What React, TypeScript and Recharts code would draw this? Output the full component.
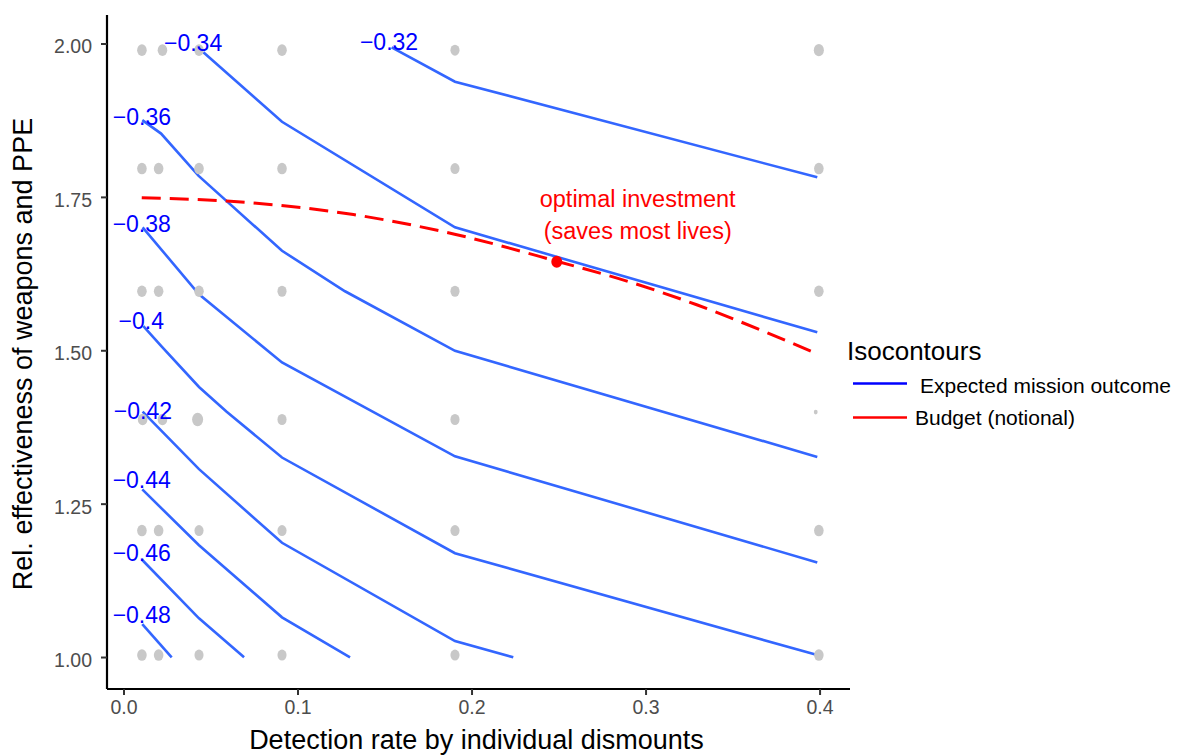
import { ComposedChart, XAxis, YAxis, Line, Scatter } from 'recharts';

// ─── Data ────────────────────────────────────────────────────────────────────

const FONT = '"Liberation Sans", Arial, Helvetica, sans-serif';

const xTicks = [0, 0.1, 0.2, 0.3, 0.4];
const yTicks = [1, 1.25, 1.5, 1.75, 2];

// simulation sample points (grey), s = relative size
const samplePoints = [
  { x: 0.0103, y: 1.99, s: 1 },
  { x: 0.0221, y: 1.99, s: 1 },
  { x: 0.0431, y: 1.99, s: 1 },
  { x: 0.0908, y: 1.99, s: 1 },
  { x: 0.1902, y: 1.99, s: 0.95 },
  { x: 0.3993, y: 1.99, s: 1.05 },
  { x: 0.0103, y: 1.797, s: 1 },
  { x: 0.0199, y: 1.797, s: 1 },
  { x: 0.0431, y: 1.797, s: 1 },
  { x: 0.0908, y: 1.797, s: 1 },
  { x: 0.1902, y: 1.797, s: 0.95 },
  { x: 0.3993, y: 1.797, s: 1 },
  { x: 0.0103, y: 1.597, s: 1 },
  { x: 0.0199, y: 1.597, s: 1 },
  { x: 0.0431, y: 1.597, s: 1 },
  { x: 0.0908, y: 1.597, s: 0.95 },
  { x: 0.1902, y: 1.597, s: 0.95 },
  { x: 0.3993, y: 1.597, s: 1 },
  { x: 0.0107, y: 1.388, s: 1 },
  { x: 0.0221, y: 1.388, s: 1 },
  { x: 0.0423, y: 1.388, s: 1.15 },
  { x: 0.0908, y: 1.388, s: 0.95 },
  { x: 0.1902, y: 1.388, s: 0.95 },
  { x: 0.3975, y: 1.4, s: 0.4 },
  { x: 0.0103, y: 1.207, s: 1 },
  { x: 0.0199, y: 1.207, s: 1 },
  { x: 0.0431, y: 1.207, s: 0.95 },
  { x: 0.0908, y: 1.207, s: 0.95 },
  { x: 0.1902, y: 1.207, s: 0.95 },
  { x: 0.3993, y: 1.207, s: 1 },
  { x: 0.0103, y: 1.004, s: 1 },
  { x: 0.0199, y: 1.004, s: 1 },
  { x: 0.0431, y: 1.004, s: 0.95 },
  { x: 0.0908, y: 1.004, s: 0.95 },
  { x: 0.1902, y: 1.004, s: 0.95 },
  { x: 0.3993, y: 1.004, s: 1 },
];

// isocontours of expected mission outcome
const contour032 = [
  { x: 0.1538, y: 1.9946 },
  { x: 0.1902, y: 1.9386 },
  { x: 0.3984, y: 1.7827 },
];
const contour034 = [
  { x: 0.0456, y: 1.9865 },
  { x: 0.0908, y: 1.8733 },
  { x: 0.1902, y: 1.7012 },
  { x: 0.3984, y: 1.53 },
];
const contour036 = [
  { x: 0.0105, y: 1.876 },
  { x: 0.0213, y: 1.854 },
  { x: 0.0429, y: 1.785 },
  { x: 0.0908, y: 1.663 },
  { x: 0.127, y: 1.597 },
  { x: 0.1902, y: 1.5 },
  { x: 0.3984, y: 1.327 },
];
const contour038 = [
  { x: 0.0107, y: 1.7012 },
  { x: 0.0431, y: 1.592 },
  { x: 0.0908, y: 1.481 },
  { x: 0.1902, y: 1.328 },
  { x: 0.3984, y: 1.155 },
];
const contour040 = [
  { x: 0.0111, y: 1.54 },
  { x: 0.0213, y: 1.508 },
  { x: 0.0431, y: 1.441 },
  { x: 0.059, y: 1.4007 },
  { x: 0.0908, y: 1.326 },
  { x: 0.1902, y: 1.17 },
  { x: 0.3984, y: 1.004 },
];
const contour042 = [
  { x: 0.0107, y: 1.4007 },
  { x: 0.0431, y: 1.307 },
  { x: 0.0908, y: 1.187 },
  { x: 0.1902, y: 1.0269 },
  { x: 0.2237, y: 1.0003 },
];
const contour044 = [
  { x: 0.0105, y: 1.274 },
  { x: 0.0431, y: 1.183 },
  { x: 0.0908, y: 1.0655 },
  { x: 0.1299, y: 1.0003 },
];
const contour046 = [
  { x: 0.0105, y: 1.159 },
  { x: 0.0431, y: 1.0639 },
  { x: 0.069, y: 1.0003 },
];
const contour048 = [
  { x: 0.0105, y: 1.0546 },
  { x: 0.0274, y: 1.0003 },
];

const contours = [
  contour032,
  contour034,
  contour036,
  contour038,
  contour040,
  contour042,
  contour044,
  contour046,
  contour048,
];

const contourLabels = [
  { x: 0.1523, y: 2.0037, text: '−0.32' },
  { x: 0.0397, y: 2.0016, text: '−0.34' },
  { x: 0.0103, y: 1.881, text: '−0.36' },
  { x: 0.0102, y: 1.7074, text: '−0.38' },
  { x: 0.0099, y: 1.5488, text: '−0.4' },
  { x: 0.0109, y: 1.4013, text: '−0.42' },
  { x: 0.0102, y: 1.2893, text: '−0.44' },
  { x: 0.0102, y: 1.1708, text: '−0.46' },
  { x: 0.0102, y: 1.0693, text: '−0.48' },
];

// notional budget isocontour
const budgetCurve = [
  { x: 0.0102, y: 1.7495 },
  { x: 0.059, y: 1.744 },
  { x: 0.1318, y: 1.722 },
  { x: 0.19, y: 1.69 },
  { x: 0.2487, y: 1.646 },
  { x: 0.2908, y: 1.612 },
  { x: 0.3291, y: 1.575 },
  { x: 0.3674, y: 1.532 },
  { x: 0.3984, y: 1.495 },
];

const optimum = [{ x: 0.2487, y: 1.645 }];

const annotation = [
  { x: 0.2952, y: 1.7348, text: 'optimal investment' },
  { x: 0.2952, y: 1.683, text: '(saves most lives)' },
];

// ─── Shapes ──────────────────────────────────────────────────────────────────

const GreyDot = (props: any) => {
  const s = props.payload?.s ?? 1;
  return <ellipse cx={props.cx} cy={props.cy} rx={4.8 * s} ry={5.8 * s} fill="#C8C8C8" />;
};

const RedDot = (props: any) => (
  <ellipse cx={props.cx} cy={props.cy} rx={5.5} ry={6} fill="#FF0000" />
);

const ContourLabel = (props: any) => (
  <text
    x={props.cx}
    y={props.cy}
    textAnchor="middle"
    dominantBaseline="central"
    fill="#0000FF"
    fontSize={23}
    fontFamily={FONT}
  >
    {props.payload.text}
  </text>
);

const AnnotationText = (props: any) => (
  <text x={props.cx} y={props.cy} textAnchor="middle" fill="#FF0000" fontSize={23.5} fontFamily={FONT}>
    {props.payload.text}
  </text>
);

const XTitle = () => (
  <text x={476.5} y={749} textAnchor="middle" fill="#000" fontSize={27} fontFamily={FONT}>
    Detection rate by individual dismounts
  </text>
);

const YTitle = () => (
  <text
    transform="translate(31.5,354) rotate(-90)"
    textAnchor="middle"
    fill="#000"
    fontSize={27}
    fontFamily={FONT}
  >
    Rel. effectiveness of weapons and PPE
  </text>
);

// ─── Chart ───────────────────────────────────────────────────────────────────

export default function App() {
  const xTick = { fill: '#4D4D4D', fontSize: 19.5, fontFamily: FONT };
  const yTick = { fill: '#4D4D4D', fontSize: 19.5, fontFamily: FONT, dy: 2.5 };
  const axisLine = { stroke: '#000', strokeWidth: 2.2 };
  const tickLine = { stroke: '#333', strokeWidth: 2 };

  return (
    <div style={{ position: 'absolute', left: 0, top: 0, width: 1178, height: 755, background: '#fff' }}>
      <ComposedChart
        width={1178}
        height={755}
        margin={{ top: 15, right: 328, bottom: 0, left: 0 }}
      >
        <XAxis
          type="number"
          dataKey="x"
          domain={[-0.00977, 0.4172]}
          allowDataOverflow
          ticks={xTicks}
          tickFormatter={(v: number) => v.toFixed(1)}
          tick={xTick}
          axisLine={axisLine}
          tickLine={tickLine}
          tickSize={6}
          tickMargin={5}
          height={66}
          label={XTitle}
        />
        <YAxis
          type="number"
          dataKey="y"
          domain={[0.9487, 2.0473]}
          allowDataOverflow
          ticks={yTicks}
          tickFormatter={(v: number) => v.toFixed(2)}
          tick={yTick}
          axisLine={axisLine}
          tickLine={tickLine}
          tickSize={6}
          tickMargin={9}
          width={107}
          label={YTitle}
        />
        <Scatter data={samplePoints} shape={GreyDot} isAnimationActive={false} />
        {contours.map((pts, i) => (
          <Line
            key={i}
            data={pts}
            dataKey="y"
            type="linear"
            stroke="#3366FF"
            strokeWidth={2.6}
            dot={false}
            activeDot={false}
            isAnimationActive={false}
          />
        ))}
        <Line
          data={budgetCurve}
          dataKey="y"
          type="monotone"
          stroke="#FF0000"
          strokeWidth={3}
          strokeDasharray="19 9"
          dot={false}
          activeDot={false}
          isAnimationActive={false}
        />
        <Scatter data={optimum} shape={RedDot} isAnimationActive={false} />
        <Scatter data={contourLabels} shape={ContourLabel} isAnimationActive={false} />
        <Scatter data={annotation} shape={AnnotationText} isAnimationActive={false} />
      </ComposedChart>

      {/* legend */}
      <svg
        width={331}
        height={110}
        style={{ position: 'absolute', left: 847, top: 330 }}
        fontFamily={FONT}
      >
        <text x={0} y={30} fontSize={26} fill="#000">
          Isocontours
        </text>
        <line x1={6} y1={53.5} x2={60} y2={53.5} stroke="#0000FF" strokeWidth={2.5} />
        <text x={73} y={63} fontSize={21} fill="#000">
          Expected mission outcome
        </text>
        <line x1={6} y1={87.5} x2={60} y2={87.5} stroke="#FF0000" strokeWidth={2.5} />
        <text x={68} y={95} fontSize={21} fill="#000">
          Budget (notional)
        </text>
      </svg>
    </div>
  );
}
